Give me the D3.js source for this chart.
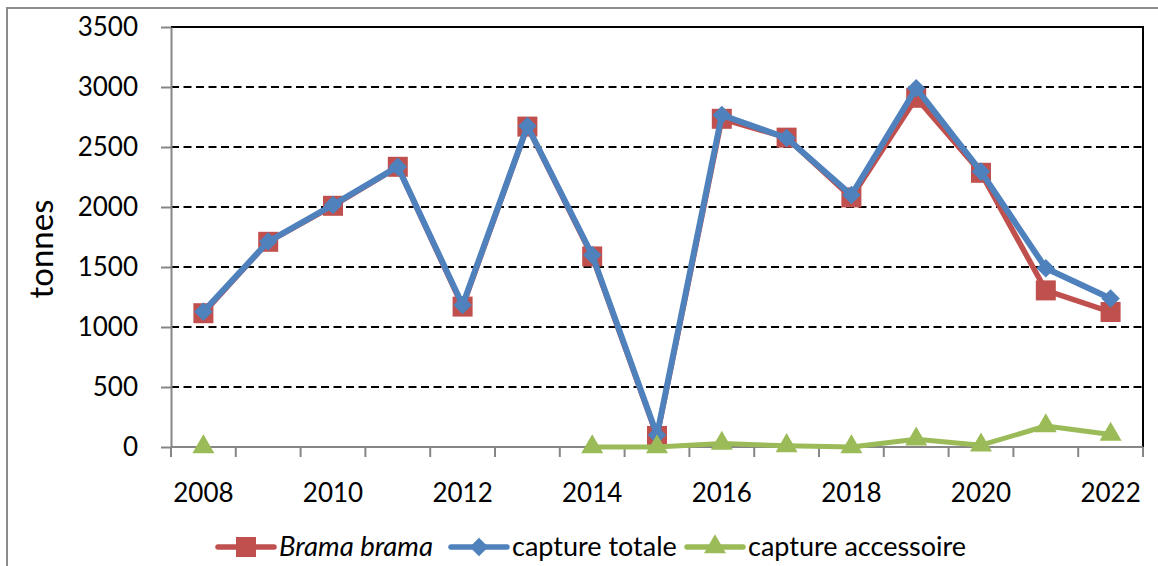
<!DOCTYPE html>
<html>
<head>
<meta charset="utf-8">
<script src="https://cdn.jsdelivr.net/npm/d3@7"></script>
<style>
  html, body { margin: 0; padding: 0; background: #fff; }
  svg { display: block; font-family: Lato, "Open Sans", sans-serif; }
</style>
</head>
<body>
<svg id="chart" width="1158" height="566"></svg>
<script>
// Yearly catches, in tonnes
const years = [2008, 2009, 2010, 2011, 2012, 2013, 2014, 2015, 2016, 2017, 2018, 2019, 2020, 2021, 2022];
const bramaBrama = [1115, 1710, 2010, 2335, 1170, 2670, 1588, 92, 2735, 2578, 2080, 2910, 2285, 1305, 1125];
const captureTotale = [1128, 1712, 2017, 2336, 1183, 2675, 1600, 100, 2767, 2575, 2100, 2990, 2295, 1490, 1238];
const captureAccessoire = [0, null, null, null, null, null, 0, 0, 30, 10, 0, 65, 15, 175, 105];
const yTicks = [0, 500, 1000, 1500, 2000, 2500, 3000, 3500];
const xLabels = [2008, 2010, 2012, 2014, 2016, 2018, 2020, 2022];
const seriesNames = ["Brama brama", "capture totale", "capture accessoire"];

const colors = { red: "#C0504D", blue: "#4F81BD", green: "#9BBB59" };
const axisGrey = "#868686";

const svg = d3.select("#chart");

// Plot frame
const plot = { left: 171, right: 1143, top: 27, bottom: 447 };

const x = d3.scaleBand().domain(years).range([plot.left, plot.right]).padding(0);
const cx = d => x(d) + x.bandwidth() / 2;
const y = d3.scaleLinear().domain([0, 3500]).range([plot.bottom, plot.top]);

// Outer chart border (top and left edges visible)
svg.append("path")
  .attr("d", `M7,566 L7,8 L1158,8`)
  .attr("fill", "none")
  .attr("stroke", "#8c8c8c")
  .attr("stroke-width", 2);

// Dashed horizontal gridlines
svg.append("g")
  .selectAll("line")
  .data(yTicks.filter(v => v > 0 && v < 3500))
  .join("line")
  .attr("x1", plot.left).attr("x2", plot.right)
  .attr("y1", d => y(d)).attr("y2", d => y(d))
  .attr("stroke", "#000")
  .attr("stroke-width", 2)
  .attr("stroke-dasharray", "8,4.5");

// Solid top and right edges of the plot area
svg.append("path")
  .attr("d", `M${plot.left},${y(3500)} L${plot.right},${y(3500)} L${plot.right},${plot.bottom}`)
  .attr("fill", "none")
  .attr("stroke", "#000")
  .attr("stroke-width", 2);

// Y axis
const yAxis = svg.append("g")
  .attr("transform", `translate(${plot.left},0)`)
  .call(d3.axisLeft(y).tickValues(yTicks).tickFormat(d3.format("d"))
    .tickSize(10).tickSizeOuter(0).tickPadding(23));
yAxis.select(".domain").attr("stroke", axisGrey).attr("stroke-width", 2);
yAxis.selectAll(".tick line").attr("stroke", axisGrey).attr("stroke-width", 2);
yAxis.selectAll(".tick text")
  .attr("fill", "#000")
  .style("font-size", "26px")
  .style("font-family", "Lato, sans-serif");

// X axis: tick marks sit between categories, labels every second year
const xAxis = svg.append("g")
  .attr("transform", `translate(0,${plot.bottom})`);
xAxis.append("line")
  .attr("x1", plot.left).attr("x2", plot.right)
  .attr("stroke", axisGrey).attr("stroke-width", 2);
const boundaries = years.map(d => x(d)).concat([x(years[years.length - 1]) + x.bandwidth()]);
xAxis.selectAll("line.tk")
  .data(boundaries)
  .join("line")
  .attr("class", "tk")
  .attr("x1", d => d).attr("x2", d => d)
  .attr("y1", 0).attr("y2", 10)
  .attr("stroke", axisGrey).attr("stroke-width", 2);
xAxis.selectAll("text")
  .data(xLabels)
  .join("text")
  .attr("x", d => cx(d))
  .attr("y", 55)
  .attr("text-anchor", "middle")
  .style("font-size", "26px")
  .text(d => d);

// Y axis title
svg.append("text")
  .attr("transform", `translate(53,249) rotate(-90)`)
  .attr("text-anchor", "middle")
  .style("font-size", "33px")
  .text("tonnes");

const line = d3.line()
  .defined(d => d[1] != null)
  .x(d => cx(d[0]))
  .y(d => y(d[1]));

const pairs = arr => years.map((yr, i) => [yr, arr[i]]);

const square = d3.symbol().type(d3.symbolSquare).size(400);
const diamond = d3.symbol().type(d3.symbolDiamond2).size(220);
const triangle = d3.symbol().type(d3.symbolTriangle).size(210);

function drawSeries(data, color, width, symbol) {
  const g = svg.append("g");
  g.append("path")
    .datum(pairs(data))
    .attr("d", line)
    .attr("fill", "none")
    .attr("stroke", color)
    .attr("stroke-width", width)
    .attr("stroke-linejoin", "round")
    .attr("stroke-linecap", "round");
  g.selectAll("path.mk")
    .data(pairs(data).filter(d => d[1] != null))
    .join("path")
    .attr("class", "mk")
    .attr("transform", d => `translate(${cx(d[0])},${y(d[1])})`)
    .attr("d", symbol)
    .attr("fill", color);
}

drawSeries(bramaBrama, colors.red, 5.5, square);
drawSeries(captureTotale, colors.blue, 6, diamond);
drawSeries(captureAccessoire, colors.green, 5, triangle);

// Legend
const legendItems = [
  { name: seriesNames[0], color: colors.red, symbol: square, italic: true, x0: 218, size: 27.5 },
  { name: seriesNames[1], color: colors.blue, symbol: diamond, italic: false, x0: 451, size: 27 },
  { name: seriesNames[2], color: colors.green, symbol: triangle, italic: false, x0: 687, size: 27 }
];
const ly = 547;
const legend = svg.append("g");
legendItems.forEach(it => {
  const g = legend.append("g");
  g.append("line")
    .attr("x1", it.x0).attr("x2", it.x0 + 56)
    .attr("y1", ly).attr("y2", ly)
    .attr("stroke", it.color).attr("stroke-width", 5.5)
    .attr("stroke-linecap", "round");
  g.append("path")
    .attr("transform", `translate(${it.x0 + 28},${ly})`)
    .attr("d", it.symbol)
    .attr("fill", it.color);
  g.append("text")
    .attr("x", it.x0 + 61)
    .attr("y", ly + 9)
    .style("font-size", it.size + "px")
    .style("font-style", it.italic ? "italic" : "normal")
    .text(it.name);
});
</script>
</body>
</html>
